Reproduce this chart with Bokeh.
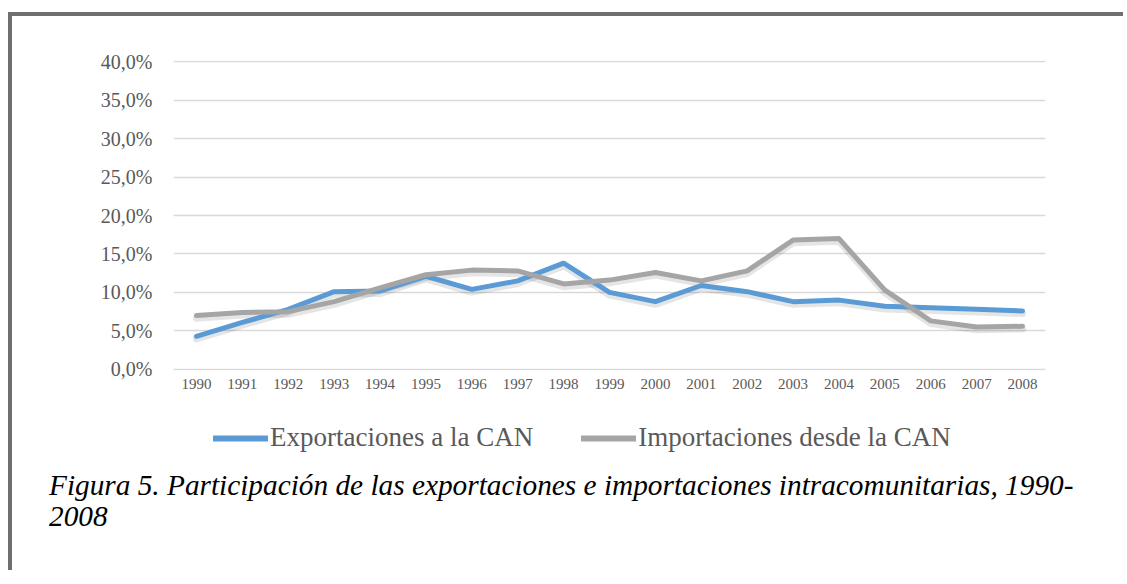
from bokeh.plotting import figure
from bokeh.layouts import column
from bokeh.models import (FactorRange, Range1d, FixedTicker, Legend, LegendItem,
                          ColumnDataSource, Div)
from bokeh.embed import file_html
from bokeh.resources import INLINE

years = ["1990", "1991", "1992", "1993", "1994", "1995", "1996", "1997", "1998", "1999",
         "2000", "2001", "2002", "2003", "2004", "2005", "2006", "2007", "2008"]
exportaciones = [4.3, 6.1, 7.8, 10.1, 10.2, 12.1, 10.4, 11.5, 13.8, 10.0,
                 8.8, 10.9, 10.1, 8.8, 9.0, 8.2, 8.0, 7.8, 7.6]
importaciones = [7.0, 7.4, 7.5, 8.8, 10.6, 12.3, 12.9, 12.8, 11.1, 11.6,
                 12.6, 11.5, 12.8, 16.8, 17.0, 10.3, 6.3, 5.5, 5.6]
y_ticks = [0, 5, 10, 15, 20, 25, 30, 35, 40]
y_tick_labels = ["0,0%", "5,0%", "10,0%", "15,0%", "20,0%", "25,0%", "30,0%", "35,0%", "40,0%"]
series_names = ["Exportaciones a la CAN", "Importaciones desde la CAN"]
caption_lines = ["Figura 5. Participación de las exportaciones e importaciones intracomunitarias, 1990-",
                 "2008"]

TXT = "#595959"
FONT = "Liberation Serif"
BLUE = "#5b9bd5"
GRAY = "#a5a5a5"
FRAME = "4px solid #6f6f6f"

src = ColumnDataSource(dict(year=years, exp=exportaciones, imp=importaciones))

# ---------------- chart ----------------
p = figure(width=1115, height=384, output_backend="svg", toolbar_location=None,
           x_range=FactorRange(factors=years, range_padding=0),
           y_range=Range1d(-0.15, 40.15),
           min_border_left=161, min_border_right=82, min_border_top=44, min_border_bottom=30)
p.outline_line_color = None
p.background_fill_color = "white"
p.border_fill_color = "white"
p.styles = {"border-left": FRAME, "border-top": FRAME,
            "margin-top": "12px", "margin-left": "8px"}

p.xaxis.axis_line_color = None
p.xaxis.major_tick_line_color = None
p.xaxis.minor_tick_line_color = None
p.xaxis.major_label_text_font = FONT
p.xaxis.major_label_text_font_size = "15px"
p.xaxis.major_label_text_color = TXT
p.xaxis.major_label_standoff = 2

p.yaxis.ticker = FixedTicker(ticks=y_ticks)
p.yaxis.major_label_overrides = {t: l for t, l in zip(y_ticks, y_tick_labels)}
p.yaxis.axis_line_color = None
p.yaxis.major_tick_line_color = None
p.yaxis.minor_tick_line_color = None
p.yaxis.major_label_text_font = FONT
p.yaxis.major_label_text_font_size = "20px"
p.yaxis.major_label_text_color = TXT
p.yaxis.major_label_standoff = 15

p.xgrid.grid_line_color = None
p.ygrid.grid_line_color = "#d9d9d9"
p.ygrid.grid_line_width = 1.5

# soft drop shadow (same data, slightly shifted scale)
p.extra_y_ranges = {"shadow": Range1d(-0.15 + 0.35, 40.15 + 0.35)}
for col in ["exp", "imp"]:
    p.line("year", col, source=src, y_range_name="shadow", line_color="black",
           line_alpha=0.10, line_width=7, line_join="round", line_cap="round")

p.line("year", "exp", source=src, line_color=BLUE, line_width=5,
       line_join="round", line_cap="round")
p.line("year", "imp", source=src, line_color=GRAY, line_width=5,
       line_join="round", line_cap="round")

# ---------------- legend strip ----------------
q = figure(width=1115, height=74, output_backend="svg", toolbar_location=None,
           x_range=Range1d(0, 1), y_range=Range1d(0, 1),
           x_axis_location=None, y_axis_location=None,
           min_border_left=0, min_border_right=0, min_border_top=0, min_border_bottom=0)
q.outline_line_color = None
q.grid.grid_line_color = None
q.background_fill_color = "white"
q.border_fill_color = "white"
q.styles = {"border-left": FRAME, "margin-left": "8px"}

# legend proxies (single point each: draw no visible mark)
proxy = ColumnDataSource(dict(x=[0], y=[0]))
k1 = q.line("x", "y", source=proxy, line_color=BLUE, line_width=6, line_cap="round")
k2 = q.line("x", "y", source=proxy, line_color=GRAY, line_width=6, line_cap="round")

legend = Legend(items=[LegendItem(label=series_names[0], renderers=[k1]),
                       LegendItem(label=series_names[1], renderers=[k2])],
                orientation="horizontal", location=(40, 17),
                label_text_font=FONT, label_text_font_size="27px", label_text_color=TXT,
                glyph_width=55, glyph_height=30, label_height=30, label_standoff=2,
                spacing=48, padding=0, margin=0, border_line_color=None,
                background_fill_alpha=0)
q.add_layout(legend)

# ---------------- caption ----------------
span_style = ("font-family: 'Liberation Serif', 'Times New Roman', serif; "
              "font-style: italic; font-size: 29.3px; line-height: 31px; color: black;")
caption_html = '<span style="%s">%s</span>' % (span_style, "<br>".join(caption_lines))
d = Div(text=caption_html, width=1078, height=110,
        styles={"border-left": FRAME, "margin-left": "8px", "padding-left": "37px",
                "margin-top": "-10px", "padding-top": "10px",
                "font-family": "'Liberation Serif', serif", "font-style": "italic",
                "white-space": "nowrap", "background": "white"})

layout = column(p, q, d, spacing=0)
open("out.html", "w").write(file_html(layout, INLINE))
